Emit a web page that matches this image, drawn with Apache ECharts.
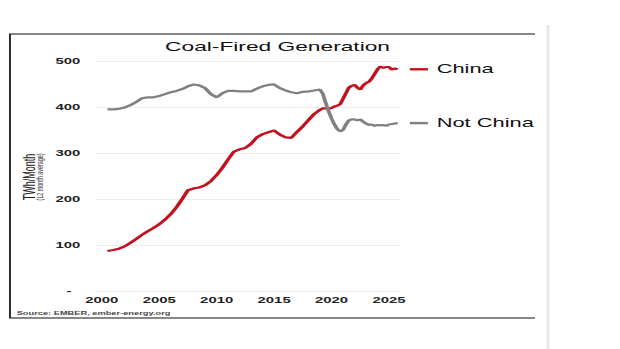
<!DOCTYPE html>
<html>
<head>
<meta charset="utf-8">
<script src="https://cdn.jsdelivr.net/npm/echarts@6/dist/echarts.min.js"></script>
<style>
  html, body { margin: 0; padding: 0; background: #ffffff; overflow: hidden; }
  /* the chart is laid out narrow and widened horizontally, giving the stretched lettering */
  #chart { width: 354.29px; height: 349px; transform: scaleX(1.75); transform-origin: 0 0; }
</style>
</head>
<body>
<div id="chart"></div>
<script>
// Years (12-month rolling average readings)
const years = [
  2000.5, 2001, 2001.5, 2002, 2002.5, 2003, 2003.5, 2004, 2004.5, 2005,
  2005.5, 2006, 2006.5, 2007, 2007.5, 2008, 2008.5, 2009, 2009.5, 2010,
  2010.5, 2011, 2011.5, 2012, 2012.5, 2013, 2013.5, 2014, 2014.5, 2015,
  2015.5, 2016, 2016.5, 2017, 2017.5, 2018, 2018.5, 2019,
  2019.25, 2019.5, 2019.75, 2020, 2020.25, 2020.5, 2020.75, 2021, 2021.25, 2021.5,
  2021.75, 2022, 2022.25, 2022.5, 2022.75, 2023, 2023.25, 2023.5, 2023.75, 2024,
  2024.25, 2024.5, 2024.75, 2025, 2025.25, 2025.5, 2025.75
];

// Coal-fired generation, TWh/month
const china = [
  87, 89, 92, 97, 105, 113, 122, 130, 137, 145,
  155, 167, 182, 200, 219, 223, 225, 230, 239, 252,
  268, 286, 303, 308, 311, 320, 334, 341, 345, 349,
  340, 334, 333, 346, 358, 372, 385, 394,
  397, 397, 396, 398, 401, 403, 406, 418, 430, 442,
  446, 448, 442, 438, 447, 452, 455, 462, 472, 482,
  488, 485, 487, 487, 481, 484, 482
];
const notChina = [
  395, 395, 396, 399, 404, 411, 419, 421, 421, 424,
  428, 432, 435, 439, 445, 449, 447, 441, 428, 421,
  430, 435, 435, 434, 434, 434, 440, 445, 448, 449,
  441, 436, 432, 430, 433, 434, 436, 438,
  428, 408, 390, 375, 362, 352, 347, 350, 362, 371,
  373, 373, 371, 373, 368, 364, 361, 362, 359, 361,
  360, 361, 359, 362, 363, 364, 365
];

const xTicks = [2000, 2005, 2010, 2015, 2020, 2025];
const yTicks = [0, 100, 200, 300, 400, 500];

const FONT = '"Liberation Sans", Arial, sans-serif';
const RED = '#c1121f';
const GREY = '#808080';

function pairs(vals) { return years.map((y, i) => [y, vals[i]]); }

function endLabel(name, color) {
  return {
    show: true,
    distance: 7,
    formatter: '{l| }{t|' + name + '}',
    rich: {
      l: { width: 10.3, height: 2.4, backgroundColor: color, verticalAlign: 'middle' },
      t: { fontSize: 12.5, color: '#111', fontFamily: FONT, padding: [0, 0, 0, 5], verticalAlign: 'middle' }
    }
  };
}

const chart = echarts.init(document.getElementById('chart'), null, { renderer: 'svg', width: 354.29, height: 349 });

chart.setOption({
  animation: false,
  backgroundColor: '#ffffff',
  grid: { left: 54.86, top: 61, width: 174, height: 230, containLabel: false, outerBoundsMode: 'none' },
  xAxis: {
    type: 'value',
    min: 1999.5,
    max: 2026,
    axisLine: { show: false },
    axisTick: { show: false },
    splitLine: { show: false },
    axisLabel: {
      customValues: xTicks,
      formatter: v => String(v),
      margin: 5,
      fontSize: 8.5,
      fontWeight: 'bold',
      color: '#222',
      fontFamily: FONT
    }
  },
  yAxis: {
    type: 'value',
    min: yTicks[0],
    max: yTicks[yTicks.length - 1],
    interval: 100,
    axisLine: { show: false },
    axisTick: { show: false },
    splitLine: { show: true, lineStyle: { color: '#ececec', width: 1 } },
    axisLabel: {
      margin: 9,
      fontSize: 8.5,
      fontWeight: 'bold',
      color: '#222',
      fontFamily: FONT,
      formatter: v => (v === 0 ? '{d|-}' : String(v)),
      rich: { d: { fontSize: 8.5, fontWeight: 'bold', color: '#222', padding: [0, 5, 0, 0] } }
    }
  },
  series: [
    {
      name: 'China',
      type: 'line',
      data: pairs(china),
      showSymbol: false,
      lineStyle: { color: RED, width: 2.2 },
      itemStyle: { color: RED },
      endLabel: endLabel('China', RED)
    },
    {
      name: 'Not China',
      type: 'line',
      data: pairs(notChina),
      showSymbol: false,
      lineStyle: { color: GREY, width: 2.2 },
      itemStyle: { color: GREY },
      endLabel: endLabel('Not China', GREY)
    }
  ],
  graphic: [
    // panel frame: top, left and bottom edges
    {
      type: 'polyline',
      shape: { points: [[305.7, 34], [5.7, 34], [5.7, 318], [305.7, 318]] },
      style: { stroke: '#111', lineWidth: 1, fill: null }
    },
    // divider on the right
    {
      type: 'line',
      shape: { x1: 313.1, y1: 25, x2: 313.1, y2: 349 },
      style: { stroke: '#e6e6e6', lineWidth: 1.6 }
    },
    {
      type: 'text',
      x: 158.6, y: 46,
      style: { text: 'Coal-Fired Generation', fontSize: 13, fontFamily: FONT, fill: '#111', align: 'center', verticalAlign: 'middle' }
    },
    {
      type: 'text',
      x: 17.1, y: 177, rotation: Math.PI / 2,
      style: { text: 'TWh/Month', fontSize: 9, fontFamily: FONT, fill: '#222', align: 'center', verticalAlign: 'middle' }
    },
    {
      type: 'text',
      x: 22.6, y: 177, rotation: Math.PI / 2,
      style: { text: '(12 month average)', fontSize: 5.4, fontFamily: FONT, fill: '#333', align: 'center', verticalAlign: 'middle' }
    },
    {
      type: 'text',
      x: 9.5, y: 313.5,
      style: { text: 'Source: EMBER, ember-energy.org', fontSize: 5.3, fontWeight: 'bold', fontFamily: FONT, fill: '#444', align: 'left', verticalAlign: 'middle' }
    }
  ]
});
</script>
</body>
</html>
